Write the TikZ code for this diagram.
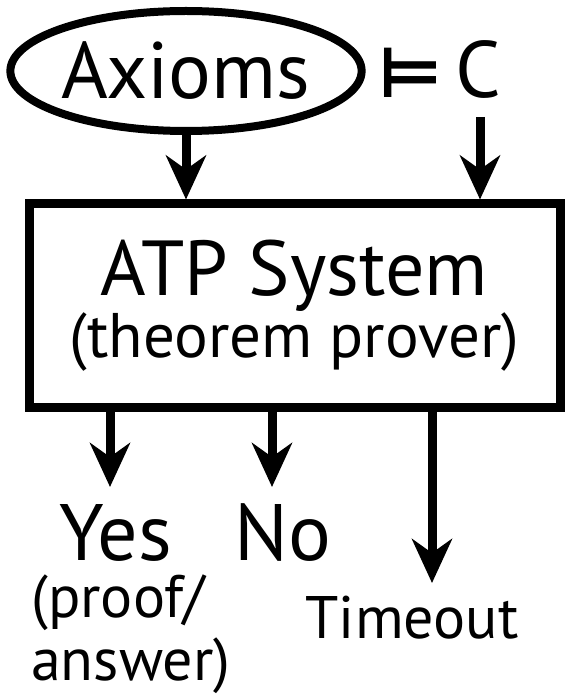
\documentclass[tikz,border=0pt]{standalone}
\usepackage{fontspec}
\setmainfont{PT Sans}
\newfontfamily\symfont{DejaVu Sans}
\usetikzlibrary{shapes.geometric,arrows.meta}

\tikzset{
  flow/.style={line width=9pt, -{Stealth[length=44pt,width=40pt,inset=14pt]}},
  bigtext/.style={font=\fontsize{80}{80}\selectfont, inner sep=0pt},
  smalltext/.style={font=\fontsize{60}{63}\selectfont, inner sep=0pt},
}

\begin{document}
\begin{tikzpicture}[x=1pt,y=1pt]
  \useasboundingbox (0,0) rectangle (572,-700);
  \node[bigtext, ellipse, draw, line width=8pt, minimum width=316pt, minimum height=120pt] (axioms) at (186,-71) {Axioms};
  \node[bigtext, anchor=base] (models) at (410,-98) {\fontsize{70}{70}\symfont\bfseries ⊨};
  \node[bigtext, anchor=base] (concl) at (478,-98) {C};
  \coordinate (cstart) at (480,-117);

  \node[draw, line width=9pt, minimum width=531pt, minimum height=203pt, inner sep=0pt, align=center] (atp) at (294.5,-305.5)
    {{\fontsize{78}{72}\selectfont ATP System}\\{\fontsize{63}{72}\selectfont (theorem prover)}};

  \node[bigtext, anchor=base] (yes) at (116,-560) {Yes};
  \node[bigtext, anchor=base] (no) at (283,-560) {No};
  \node[smalltext, align=left, anchor=north west] (proof) at (31,-575) {(proof/\\answer)};
  \node[smalltext, anchor=base] (timeout) at (412,-638) {Timeout};
  \coordinate (yestip) at (110,-487);
  \coordinate (notip) at (272,-487);
  \coordinate (timetip) at (432,-583);

  \draw[flow] (axioms.south) -- (axioms.south |- atp.north);
  \draw[flow] (cstart) -- (cstart |- atp.north);
  \draw[flow] (atp.south -| yestip) -- (yestip);
  \draw[flow] (atp.south -| notip) -- (notip);
  \draw[flow] (atp.south -| timetip) -- (timetip);
\end{tikzpicture}
\end{document}
